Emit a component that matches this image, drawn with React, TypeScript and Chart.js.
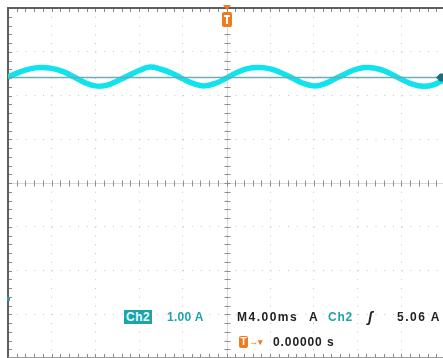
import React, { useEffect, useRef } from "react";
import { Chart, registerables } from "chart.js";

Chart.register(...registerables);

// Time axis (ms) — 4 ms/div, 10 divisions, trigger at 0
const TIME_MS = [
  -20, -19, -18, -17, -16, -15, -14, -13, -12, -11, -10, -9, -8, -7, -6, -5, -4, -3, -2, -1,
  0, 1, 2, 3, 4, 5, 6, 7, 8, 9, 10, 11, 12, 13, 14, 15, 16, 17, 18, 19, 20,
];
// Ch2 current (A) — 1.00 A/div
const CH2_AMPS = [
  5.07, 5.18, 5.26, 5.29, 5.27, 5.2, 5.08, 4.95, 4.87, 4.88, 4.98, 5.1, 5.22, 5.3, 5.25, 5.16, 5.03, 4.92, 4.87, 4.93,
  5.05, 5.18, 5.27, 5.29, 5.26, 5.17, 5.05, 4.93, 4.87, 4.92, 5.04, 5.16, 5.26, 5.29, 5.25, 5.15, 5.02, 4.91, 4.86, 4.9,
  5.02,
];
const TRIGGER_LEVEL_A = 5.06;
const TRIGGER_LINE_T = [-20, 20];

const X_MIN = -20;
const X_MAX = 20;
const X_DIV = 4;
const Y_MIN = -1.35;
const Y_MAX = 6.65;
const Y_DIV = 1;

const LABEL_CH = "Ch2";
const LABEL_SCALE = "1.00 A";
const LABEL_TIMEBASE = "M4.00ms";
const LABEL_A = "A";
const LABEL_TRIG_LEVEL = "5.06 A";
const LABEL_EDGE = "ʃ";
const LABEL_POS = "0.00000 s";

const TEAL = "#1fa3ab";
const ORANGE = "#f07a1e";

const scopePlugin = {
  id: "scopeDecor",
  beforeDatasetsDraw(chart: any) {
    const { ctx, chartArea: a, scales } = chart;
    const xs = scales.x;
    const ys = scales.y;
    const cx = Math.round(xs.getPixelForValue(0)) + 0.5;
    const cy = Math.round(ys.getPixelForValue(Y_MIN + 4 * Y_DIV)) + 0.5;
    const stepX = (xs.getPixelForValue(X_DIV) - xs.getPixelForValue(0)) / 5;
    const stepY = (ys.getPixelForValue(Y_MIN) - ys.getPixelForValue(Y_MIN + Y_DIV)) / 5;
    ctx.save();
    ctx.strokeStyle = "#dadada";
    ctx.lineWidth = 1;
    ctx.beginPath();
    ctx.moveTo(cx, a.top);
    ctx.lineTo(cx, a.bottom);
    ctx.moveTo(a.left, cy);
    ctx.lineTo(a.right, cy);
    ctx.stroke();
    ctx.strokeStyle = "#8e8e8e";
    ctx.beginPath();
    for (let y = a.top; y <= a.bottom + 0.5; y += stepY) {
      const yy = Math.round(y) + 0.5;
      ctx.moveTo(cx - 3, yy);
      ctx.lineTo(cx + 3, yy);
    }
    for (let x = a.left; x <= a.right + 0.5; x += stepX) {
      const xx = Math.round(x) + 0.5;
      ctx.moveTo(xx, cy - 3);
      ctx.lineTo(xx, cy + 3);
    }
    ctx.stroke();
    ctx.strokeStyle = "#8a8a8a";
    ctx.beginPath();
    for (let x = a.left; x <= a.right + 0.5; x += stepX) {
      const xx = Math.round(x) + 0.5;
      ctx.moveTo(xx, a.top);
      ctx.lineTo(xx, a.top + 4);
      ctx.moveTo(xx, a.bottom);
      ctx.lineTo(xx, a.bottom - 4);
    }
    for (let y = a.top; y <= a.bottom + 0.5; y += stepY) {
      const yy = Math.round(y) + 0.5;
      ctx.moveTo(a.left, yy);
      ctx.lineTo(a.left + 4, yy);
    }
    ctx.stroke();
    ctx.fillStyle = "#5e5e5e";
    ctx.fillRect(a.left - 1, a.top - 1, a.right - a.left + 2, 2);
    ctx.fillRect(a.left - 1, a.top - 1, 2, a.bottom - a.top + 1);
    ctx.fillStyle = "#9a9a9a";
    ctx.fillRect(a.left, a.bottom - 1, a.right - a.left, 1);
    ctx.restore();
  },
  afterDatasetsDraw(chart: any) {
    const { ctx, chartArea: a, scales } = chart;
    const xs = scales.x;
    const ys = scales.y;
    const tx = Math.round(xs.getPixelForValue(0));
    ctx.save();
    ctx.fillStyle = ORANGE;
    ctx.beginPath();
    ctx.moveTo(tx - 4, a.top - 3);
    ctx.lineTo(tx + 4, a.top - 3);
    ctx.lineTo(tx, a.top + 2);
    ctx.closePath();
    ctx.fill();
    ctx.beginPath();
    ctx.roundRect(tx - 5, a.top + 4, 10, 15, 2);
    ctx.fill();
    ctx.fillStyle = "#ffffff";
    ctx.fillRect(tx - 3, a.top + 7, 6, 2);
    ctx.fillRect(tx - 1, a.top + 7, 2, 9);
    const ty = ys.getPixelForValue(TRIGGER_LEVEL_A);
    ctx.fillStyle = "#1d6f78";
    ctx.beginPath();
    ctx.moveTo(436, ty);
    ctx.lineTo(440, ty - 4);
    ctx.lineTo(444, ty - 4);
    ctx.lineTo(444, ty + 4);
    ctx.lineTo(440, ty + 4);
    ctx.closePath();
    ctx.fill();
    const gy = ys.getPixelForValue(0);
    ctx.fillStyle = "#3a9aa2";
    ctx.fillRect(a.left - 1, gy - 2, 3, 4);
    ctx.restore();
  },
};

const txt: React.CSSProperties = {
  position: "absolute",
  fontFamily: "'Liberation Sans', Arial, sans-serif",
  fontWeight: "bold",
  fontSize: "12px",
  lineHeight: "14px",
  whiteSpace: "pre",
  color: "#222",
};

export default function App() {
  const ref = useRef<HTMLCanvasElement | null>(null);

  useEffect(() => {
    document.body.style.margin = "0";
    document.body.style.overflow = "hidden";
    const canvas = ref.current;
    if (!canvas) return;
    const chart = new Chart(canvas, {
      type: "line",
      data: {
        datasets: [
          {
            label: "Trigger level",
            data: TRIGGER_LINE_T.map((t) => ({ x: t, y: TRIGGER_LEVEL_A })),
            borderColor: "rgba(105,170,176,0.95)",
            borderWidth: 1.5,
            pointRadius: 0,
            order: 0,
          },
          {
            label: "Ch2",
            data: TIME_MS.map((t, i) => ({ x: t, y: CH2_AMPS[i] })),
            borderColor: "#10e2ee",
            borderWidth: 5.5,
            pointRadius: 0,
            tension: 0.4,
            order: 1,
          },
        ],
      },
      options: {
        responsive: false,
        animation: false,
        devicePixelRatio: 1,
        layout: { padding: { left: 8, top: 8, right: 5, bottom: 0 } },
        plugins: { legend: { display: false }, tooltip: { enabled: false } },
        scales: {
          x: {
            type: "linear",
            min: X_MIN,
            max: X_MAX,
            ticks: { display: false, stepSize: X_DIV },
            grid: {
              drawTicks: false,
              color: (c: any) =>
                c.tick && (c.tick.value === X_MIN || c.tick.value === X_MAX) ? "rgba(0,0,0,0)" : "#c4c4c4",
            },
            border: { display: false, dash: [1, 7.75] },
          },
          y: {
            type: "linear",
            min: Y_MIN,
            max: Y_MAX,
            afterBuildTicks: (s: any) => {
              const t = [];
              for (let k = 0; k <= 8; k++) t.push({ value: Y_MIN + k * Y_DIV });
              s.ticks = t;
            },
            ticks: { display: false },
            grid: {
              drawTicks: false,
              color: (c: any) => (c.index === 0 || c.index === 8 ? "rgba(0,0,0,0)" : "#c4c4c4"),
            },
            border: { display: false, dash: [1, 7.75] },
          },
        },
      },
      plugins: [scopePlugin],
    });
    return () => chart.destroy();
  }, []);

  return (
    <div style={{ position: "relative", width: 443, height: 358, overflow: "hidden", background: "#fff" }}>
      <canvas ref={ref} width={450} height={358} style={{ position: "absolute", left: 0, top: 0, width: 450, height: 358 }} />
      <div
        style={{
          ...txt,
          left: 124,
          top: 310,
          height: 14,
          padding: "0 2px",
          background: TEAL,
          color: "#e8ffff",
          letterSpacing: "0.5px",
        }}
      >
        {LABEL_CH}
      </div>
      <div style={{ ...txt, left: 167, top: 310, color: TEAL, letterSpacing: "0.3px" }}>{LABEL_SCALE}</div>
      <div style={{ ...txt, left: 237, top: 310, letterSpacing: "1.5px" }}>{LABEL_TIMEBASE}</div>
      <div style={{ ...txt, left: 309, top: 310 }}>{LABEL_A}</div>
      <div style={{ ...txt, left: 328, top: 310, color: TEAL, letterSpacing: "0.8px" }}>{LABEL_CH}</div>
      <div style={{ ...txt, left: 368, top: 310, fontStyle: "italic", fontSize: "14px" }}>{LABEL_EDGE}</div>
      <div style={{ ...txt, left: 397, top: 310, letterSpacing: "1.5px" }}>{LABEL_TRIG_LEVEL}</div>
      <div
        style={{
          ...txt,
          left: 239,
          top: 336,
          width: 9,
          height: 12,
          fontSize: "10px",
          lineHeight: "12px",
          textAlign: "center",
          background: ORANGE,
          color: "#fff",
          borderRadius: 2,
        }}
      >
        T
      </div>
      <div style={{ ...txt, left: 249, top: 335, color: ORANGE, fontSize: "9px" }}>{"→▾"}</div>
      <div style={{ ...txt, left: 273, top: 335, letterSpacing: "0.9px" }}>{LABEL_POS}</div>
    </div>
  );
}
